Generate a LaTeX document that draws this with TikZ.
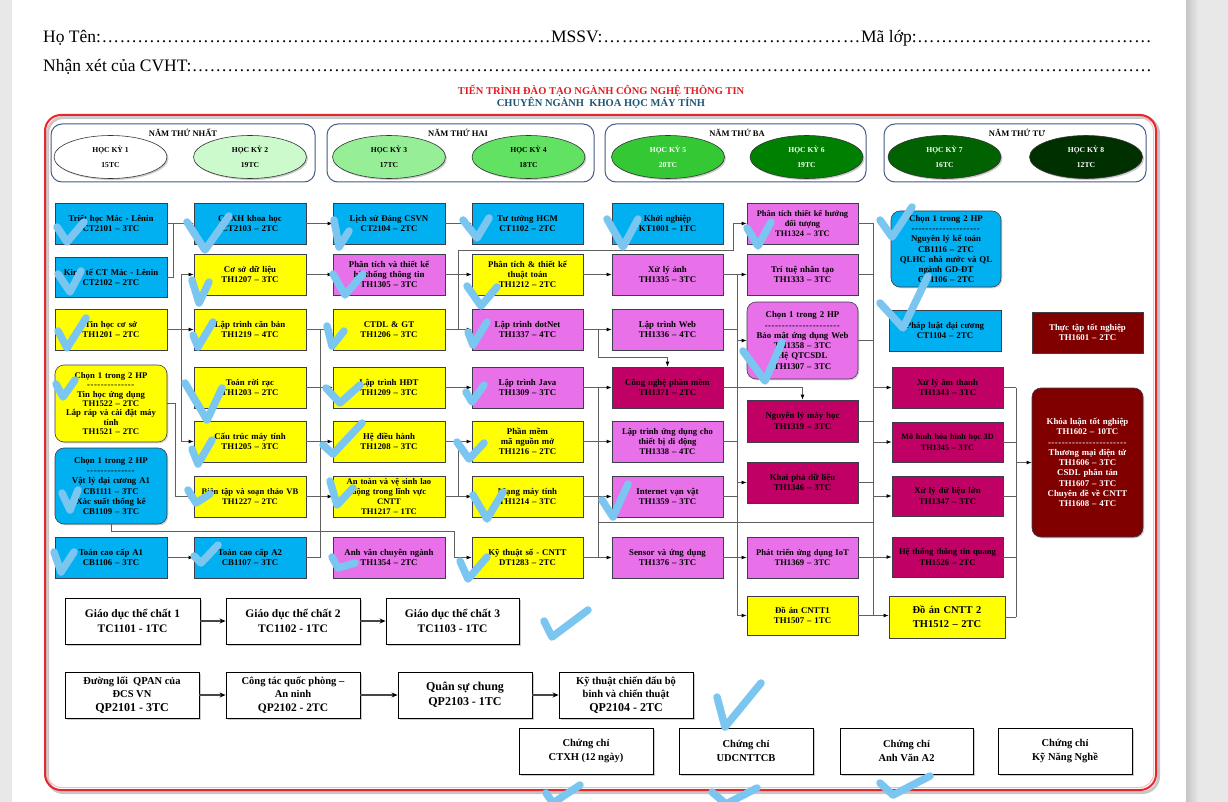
\documentclass[tikz,border=0pt]{standalone}
\usepackage{fontspec}
\setmainfont{Liberation Serif}
\usetikzlibrary{arrows.meta,shadows,shapes.geometric,calc}

% palette
\definecolor{cblue}{RGB}{0,176,240}
\definecolor{cyel}{RGB}{255,255,0}
\definecolor{cmag}{RGB}{232,112,232}
\definecolor{ccrim}{RGB}{192,0,100}
\definecolor{cdred}{RGB}{128,0,0}
\definecolor{cborder}{RGB}{60,60,75}
\definecolor{cline}{RGB}{95,95,95}
\definecolor{ctick}{RGB}{122,198,240}
\definecolor{cyear}{RGB}{70,92,135}
\definecolor{ctitle}{RGB}{225,30,35}
\definecolor{csub}{RGB}{30,85,115}
\definecolor{cframe}{RGB}{228,40,45}
\definecolor{pagegray}{RGB}{232,232,232}
\definecolor{hkone}{RGB}{255,255,255}
\definecolor{hktwo}{RGB}{204,250,204}
\definecolor{hkthree}{RGB}{150,238,150}
\definecolor{hkfour}{RGB}{98,226,98}
\definecolor{hkfive}{RGB}{52,200,52}
\definecolor{hksix}{RGB}{0,128,0}
\definecolor{hkseven}{RGB}{0,98,0}
\definecolor{hkeight}{RGB}{0,48,0}

% course box: name, x1, y1, x2, y2, style, text
\newcommand\crs[7]{%
  \pgfmathsetmacro\cw{#4-#2}\pgfmathsetmacro\ch{#5-#3}\pgfmathsetmacro\tw{#4-#2-4}%
  \node[#6, minimum width=\cw pt, minimum height=\ch pt, text width=\tw pt] (#1) at ({(#2+#4)/2},{(#3+#5)/2}) {#7};}
\newcommand\dotrun{\xleaders\hbox{…}\hfill}
\newcommand\hy[1]{\foreach\i in {1,...,#1}{-\kern0.5pt}}

\tikzset{
  cbox/.style={draw=cborder, line width=0.6pt, align=center, inner xsep=2pt, inner ysep=0pt,
    font=\bfseries\fontsize{8.8}{10.3}\selectfont,
    drop shadow={shadow xshift=1.3pt, shadow yshift=-1.3pt, opacity=0.3}},
  bluebox/.style={cbox, fill=cblue},
  yelbox/.style={cbox, fill=cyel},
  magbox/.style={cbox, fill=cmag},
  crimbox/.style={cbox, fill=ccrim},
  redbox/.style={cbox, fill=cdred, text=white},
  choice/.style={rounded corners=9pt},
  conn/.style={draw=cline, line width=0.75pt},
  arr/.style={conn, -{Latex[length=5pt,width=3.8pt,color=black]}},
  plainbox/.style={draw=black, line width=0.9pt, fill=white, align=center, inner sep=1pt,
    font=\bfseries\fontsize{11.5}{14.3}\selectfont,
    drop shadow={shadow xshift=1.6pt, shadow yshift=-1.6pt, opacity=0.4}},
  parr/.style={draw=gray!55!black, line width=1.3pt, -{Stealth[length=6pt,width=5pt,color=black]}},
  yearbox/.style={draw=cyear, line width=1pt, rounded corners=11pt, fill=white},
  yearlbl/.style={font=\bfseries\fontsize{8.5}{10}\selectfont, inner sep=0.5pt},
  hk/.style={ellipse, draw=gray!40!black, line width=0.6pt, minimum width=113pt, minimum height=43pt,
    align=center, inner sep=0pt, font=\bfseries\fontsize{7.6}{15}\selectfont,
    drop shadow={shadow xshift=1.5pt, shadow yshift=-1.5pt, opacity=0.4}},
  checkstroke/.style={draw=ctick, line width=7.5pt, line cap=round, line join=round},
}

\begin{document}
\begin{tikzpicture}[x=1pt,y=-1pt]
\useasboundingbox (0,0) rectangle (1228,802);
\clip (0,0) rectangle (1228,802);

% sheet
\fill[pagegray] (0,0) rectangle (1228,802);
\fill[white] (12,0) rectangle (1186,802);
\shade[left color=gray!45, right color=pagegray] (1186,0) rectangle (1198,802);

% form header
\node[anchor=base west, inner sep=0, font=\fontsize{17.5}{20}\selectfont] (hoten) at (43,43)
  {\makebox[508pt][l]{Họ Tên:\dotrun}\makebox[310pt][l]{MSSV:\dotrun}\makebox[291pt][l]{Mã lớp:\dotrun}};
\node[anchor=base west, inner sep=0, font=\fontsize{17.5}{20}\selectfont] (nhanxet) at (43,72)
  {\makebox[1109pt][l]{Nhận xét của CVHT:\dotrun}};
\node[font=\bfseries\fontsize{10.5}{12}\selectfont, text=ctitle, inner sep=0] (title) at (601,91)
  {TIẾN TRÌNH ĐÀO TẠO NGÀNH CÔNG NGHỆ THÔNG TIN};
\node[font=\bfseries\fontsize{10.5}{12}\selectfont, text=csub, inner sep=0] (subtitle) at (601,103)
  {CHUYÊN NGÀNH \ KHOA HỌC MÁY TÍNH};

% outer frame
\draw[gray!45, line width=3pt, rounded corners=16pt] (47.5,117.5) rectangle (1158.5,792.5);
\draw[cframe, line width=2pt, rounded corners=16pt] (45,115) rectangle (1156,790);
\draw[cframe!30, line width=1pt, rounded corners=14pt] (47.5,117.5) rectangle (1153.5,787.5);

% years and semesters
\node[yearbox, minimum width=264pt, minimum height=58pt] (y1) at (183,153) {};
\node[yearbox, minimum width=267pt, minimum height=58pt] (y2) at (460.5,153) {};
\node[yearbox, minimum width=261pt, minimum height=58pt] (y3) at (735.5,153) {};
\node[yearbox, minimum width=262pt, minimum height=58pt] (y4) at (1015,153) {};
\node[yearlbl] (y1l) at (183,133) {NĂM THỨ NHẤT};
\node[yearlbl] (y2l) at (458,133) {NĂM THỨ HAI};
\node[yearlbl] (y3l) at (737,133) {NĂM THỨ BA};
\node[yearlbl] (y4l) at (1017,133) {NĂM THỨ TƯ};
\node[hk, fill=hkone] (hk1) at (110.5,157) {HỌC KỲ 1\\15TC};
\node[hk, fill=hktwo] (hk2) at (250,157) {HỌC KỲ 2\\19TC};
\node[hk, fill=hkthree] (hk3) at (389,157) {HỌC KỲ 3\\17TC};
\node[hk, fill=hkfour] (hk4) at (528.5,157) {HỌC KỲ 4\\18TC};
\node[hk, fill=hkfive, text=white] (hk5) at (668,157) {HỌC KỲ 5\\20TC};
\node[hk, fill=hksix, text=white] (hk6) at (806.5,157) {HỌC KỲ 6\\19TC};
\node[hk, fill=hkseven, text=white] (hk7) at (944.5,157) {HỌC KỲ 7\\16TC};
\node[hk, fill=hkeight, text=white] (hk8) at (1086,157) {HỌC KỲ 8\\12TC};

% column 1
\crs{c1a}{55}{203}{167}{244}{bluebox}{Triết học Mác - Lênin\\CT2101 – 3TC}
\crs{c1b}{55}{257}{167}{297}{bluebox}{Kinh tế CT Mác - Lênin\\CT2102 – 2TC}
\crs{c1c}{55}{309}{167}{350}{yelbox}{Tin học cơ sở\\TH1201 – 2TC}
\crs{c1d}{55}{365}{167}{442}{yelbox, choice, font=\bfseries\fontsize{8.7}{9.4}\selectfont}{Chọn 1 trong 2 HP\\\hy{14}\\Tin học ứng dụng\\TH1522 – 2TC\\Lắp ráp và cài đặt máy\\tính\\TH1521 – 2TC}
\crs{c1e}{55}{448}{167}{524}{bluebox, choice}{Chọn 1 trong 2 HP\\\hy{14}\\Vật lý đại cương A1\\CB1111 – 3TC\\Xác suất thống kê\\CB1109 – 3TC}
\crs{c1f}{55}{537}{167}{578}{bluebox}{Toán cao cấp A1\\CB1106 – 3TC}

% column 2
\crs{c2a}{194}{203}{306}{244}{bluebox}{CNXH khoa học\\CT2103 – 2TC}
\crs{c2b}{194}{254}{306}{295}{yelbox}{Cơ sở dữ liệu\\TH1207 – 3TC}
\crs{c2c}{194}{309}{306}{350}{yelbox}{Lập trình căn bản\\TH1219 – 4TC}
\crs{c2d}{194}{367}{306}{408}{yelbox}{Toán rời rạc\\TH1203 – 2TC}
\crs{c2e}{194}{421}{306}{462}{yelbox}{Cấu trúc máy tính\\TH1205 – 3TC}
\crs{c2f}{194}{476}{306}{517}{yelbox, font=\bfseries\fontsize{8.6}{10.3}\selectfont}{Biên tập và soạn thảo VB\\TH1227 – 2TC}
\crs{c2g}{194}{537}{306}{578}{bluebox}{Toán cao cấp A2\\CB1107 – 3TC}

% column 3
\crs{c3a}{333}{203}{445}{244}{bluebox}{Lịch sử Đảng CSVN\\CT2104 – 2TC}
\crs{c3b}{333}{254}{445}{295}{magbox}{Phân tích và thiết kế\\hệ thống thông tin\\TH1305 – 3TC}
\crs{c3c}{333}{309}{445}{350}{yelbox}{CTDL \& GT\\TH1206 – 3TC}
\crs{c3d}{333}{367}{445}{408}{yelbox}{Lập trình HĐT\\TH1209 – 3TC}
\crs{c3e}{333}{421}{445}{462}{yelbox}{Hệ điều hành\\TH1208 – 3TC}
\crs{c3f}{333}{476}{445}{517}{yelbox, font=\bfseries\fontsize{8.6}{10}\selectfont}{An toàn và vệ sinh lao\\động trong lĩnh vực\\CNTT\\TH1217 – 1TC}
\crs{c3g}{333}{537}{445}{578}{magbox}{Anh văn chuyên ngành\\TH1354 – 2TC}

% column 4
\crs{c4a}{472}{203}{583}{244}{bluebox}{Tư tưởng HCM\\CT1102 – 2TC}
\crs{c4b}{472}{254}{583}{295}{yelbox}{Phân tích \& thiết kế\\thuật toán\\TH1212 – 2TC}
\crs{c4c}{472}{309}{583}{350}{magbox}{Lập trình dotNet\\TH1337 – 4TC}
\crs{c4d}{472}{367}{583}{408}{magbox}{Lập trình Java\\TH1309 – 3TC}
\crs{c4e}{472}{421}{583}{462}{yelbox}{Phần mềm\\mã nguồn mở\\TH1216 – 2TC}
\crs{c4f}{472}{476}{583}{517}{yelbox}{Mạng máy tính\\TH1214 – 3TC}
\crs{c4g}{472}{537}{583}{578}{yelbox}{Kỹ thuật số - CNTT\\DT1283 – 2TC}

% column 5
\crs{c5a}{612}{203}{723}{244}{bluebox}{Khởi nghiệp\\KT1001 – 1TC}
\crs{c5b}{612}{254}{723}{295}{magbox}{Xử lý ảnh\\TH1335 – 3TC}
\crs{c5c}{612}{309}{723}{350}{magbox}{Lập trình Web\\TH1336 – 4TC}
\crs{c5d}{612}{367}{723}{408}{crimbox}{Công nghệ phần mềm\\TH1371 – 2TC}
\crs{c5e}{612}{421}{723}{462}{magbox, font=\bfseries\fontsize{8.6}{10.3}\selectfont}{Lập trình ứng dụng cho\\thiết bị di động\\TH1338 – 4TC}
\crs{c5f}{612}{476}{723}{517}{magbox}{Internet vạn vật\\TH1359 – 3TC}
\crs{c5g}{612}{537}{723}{578}{magbox}{Sensor và ứng dụng\\TH1376 – 3TC}

% column 6
\crs{c6a}{747}{203}{858}{244}{magbox, font=\bfseries\fontsize{8.4}{10.3}\selectfont}{Phân tích thiết kế hướng\\đối tượng\\TH1324 – 3TC}
\crs{c6b}{747}{254}{858}{295}{magbox}{Trí tuệ nhân tạo\\TH1333 – 3TC}
\crs{c6c}{747}{302}{858}{379}{magbox, choice}{Chọn 1 trong 2 HP\\\hy{22}\\Bảo mật ứng dụng Web\\TH1358 – 3TC\\Hệ QTCSDL\\TH1307 – 3TC}
\crs{c6d}{747}{400}{858}{442}{crimbox}{Nguyên lý máy học\\TH1319 – 3TC}
\crs{c6e}{747}{462}{858}{503}{crimbox}{Khai phá dữ liệu\\TH1346 – 3TC}
\crs{c6f}{747}{537}{858}{578}{magbox, font=\bfseries\fontsize{8.6}{10.3}\selectfont}{Phát triển ứng dụng IoT\\TH1369 – 3TC}
\crs{c6g}{747}{596}{858}{635}{yelbox}{Đồ án CNTT1\\TH1507 – 1TC}

% column 7
\crs{c7a}{891}{211}{1001}{287}{bluebox, choice}{Chọn 1 trong 2 HP\\\hy{20}\\Nguyên lý kế toán\\CB1116 – 2TC\\QLHC nhà nước và QL\\ngành GD-ĐT\\CB1106 – 2TC}
\crs{c7b}{889}{310}{1001}{351}{bluebox}{Pháp luật đại cương\\CT1104 – 2TC}
\crs{c7c}{892}{367}{1003}{408}{crimbox}{Xử lý âm thanh\\TH1343 – 3TC}
\crs{c7d}{892}{422}{1003}{462}{crimbox, font=\bfseries\fontsize{8.2}{10.3}\selectfont}{Mô hình hóa hình học 3D\\TH1345 – 3TC}
\crs{c7e}{892}{476}{1003}{516}{crimbox}{Xử lý dữ liệu lớn\\TH1347 – 3TC}
\crs{c7f}{892}{537}{1003}{577}{crimbox, font=\bfseries\fontsize{8.6}{10.3}\selectfont}{Hệ thống thông tin quang\\TH1526 – 2TC}
\crs{c7g}{889}{596}{1005}{638}{yelbox, font=\bfseries\fontsize{10.5}{14}\selectfont}{Đồ án CNTT 2\\TH1512 – 2TC}

% column 8
\crs{c8a}{1032}{312}{1143}{353}{redbox}{Thực tập tốt nghiệp\\TH1601 – 2TC}
\crs{c8b}{1032}{388}{1143}{537}{redbox, choice}{Khóa luận tốt nghiệp\\TH1602 – 10TC\\\hy{23}\\Thương mại điện tử\\TH1606 – 3TC\\CSDL phân tán\\TH1607 – 3TC\\Chuyên đề về CNTT\\TH1608 – 4TC}

% bus positions
\coordinate (b1) at (181,0);
\coordinate (b2) at (320,0);
\coordinate (b3) at (458,0);
\coordinate (b4) at (598,0);
\coordinate (b5) at (737,0);
\coordinate (b6) at (873,0);
\coordinate (b7) at (1016,0);
\coordinate (k1) at (733,250);
\coordinate (k2) at (667.5,357);
\coordinate (k3) at (0,522);

% semester 1 -> 2
\draw[arr] (c1a.east) -- (c2a.west);
\draw[conn] (c1b.east) -| ($(c1a.east)+(6,0)$);
\draw[arr] (c1c.east) -- (c2c.west);
\draw[conn] (b1 |- c2b.west) -- (b1 |- c2e.west);
\draw[arr] (b1 |- c2b.west) -- (c2b.west);
\draw[arr] (b1 |- c2e.west) -- (c2e.west);
\draw[arr] (c1d.east) -- ++(8,0) |- (c2f.west);
\draw[arr] (c1e.south) -- ++(0,7) -| ($(c4g.west)+(-17,0)$) -- (c4g.west);
\draw[arr] (c1f.east) -- (c2g.west);

% semester 2 -> 3
\draw[arr] (c2a.east) -- (c3a.west);
\draw[arr] (c2b.east) -- (c3b.west);
\draw[conn] (b2 |- c2c.east) -- (b2 |- c2g.east);
\foreach \n in {c2c,c2e,c2f,c2g} \draw[conn] (\n.east) -- (\n.east -| b2);
\foreach \n in {c3c,c3e,c3f} \draw[arr] (\n.west -| b2) -- (\n.west);
\draw[arr] (c2d.east) -- (c3d.west);

% semester 3 -> 4
\foreach \a/\b in {c3a/c4a,c3b/c4b,c3c/c4c,c3d/c4d,c3e/c4e,c3f/c4f} \draw[arr] (\a.east) -- (\b.west);
\draw[conn] (b3 |- c3e.east) -- (b3 |- c3f.east);
\draw[arr] (c3c.east -| b3) |- (k1) |- (c6a.west);

% semester 4 -> 5
\foreach \a/\b in {c4b/c5b,c4c/c5c,c4d/c5d,c4e/c5e,c4f/c5f,c4g/c5g} \draw[arr] (\a.east) -- (\b.west);
\draw[conn] (b4 |- c4d.east) -- (b4 |- c4g.east);
\draw[arr] (c4c.east -| b4) |- (k2) -- (c5d.north);
\draw[conn] (b4 |- k3) -- (b6 |- k3);

% semester 5 -> 6
\draw[conn] (b5 |- c5b.east) -- (b5 |- c6g.west);
\foreach \n in {c5c,c5e,c5f} \draw[conn] (\n.east) -- (\n.east -| b5);
\draw[arr] (c5b.east) -- (c6b.west);
\draw[arr] (c5g.east) -- (c6f.west);
\foreach \n in {c6c,c6e,c6g} \draw[arr] (\n.west -| b5) -- (\n.west);
\draw[arr] (c5d.east) -| (c6d.north);

% semester 6 -> 7
\draw[conn] (b6 |- c6a.east) -- (b6 |- c6g.east);
\foreach \n in {c6a,c6b,c6c,c6d,c6e,c6f} \draw[conn] (\n.east) -- (\n.east -| b6);
\foreach \n in {c7c,c7d,c7e,c7f} \draw[arr] (\n.west -| b6) -- (\n.west);
\draw[arr] (c6g.east) -- (c6g.east -| c7g.west);

% semester 7 -> 8
\draw[conn] (b7 |- c7c.east) -- (b7 |- c7g.east);
\foreach \n in {c7c,c7d,c7e,c7f,c7g} \draw[conn] (\n.east) -- (\n.east -| b7);
\draw[arr] (b7 |- c8b.west) -- (c8b.west);

% physical education
\node[plainbox, minimum width=135pt, minimum height=46pt] (g1) at (132.5,621) {Giáo dục thể chất 1\\TC1101 - 1TC};
\node[plainbox, minimum width=134pt, minimum height=46pt] (g2) at (293,621) {Giáo dục thể chất 2\\TC1102 - 1TC};
\node[plainbox, minimum width=133pt, minimum height=46pt] (g3) at (452.5,621) {Giáo dục thể chất 3\\TC1103 - 1TC};
\draw[parr] (g1) -- (g2);
\draw[parr] (g2) -- (g3);

% defence education
\node[plainbox, minimum width=134pt, minimum height=46pt, font=\bfseries\fontsize{10.5}{12.8}\selectfont] (q1) at (132,695)
  {Đường lối \ QPAN của\\ĐCS VN\\[1pt]{\fontsize{12}{14}\selectfont QP2101 - 3TC}};
\node[plainbox, minimum width=134pt, minimum height=46pt, font=\bfseries\fontsize{10.5}{12.8}\selectfont] (q2) at (293,695)
  {Công tác quốc phòng –\\An ninh\\[1pt]{\fontsize{11.5}{14}\selectfont QP2102 - 2TC}};
\node[plainbox, minimum width=134pt, minimum height=46pt, font=\bfseries\fontsize{12}{15}\selectfont] (q3) at (465,695)
  {Quân sự chung\\QP2103 - 1TC};
\node[plainbox, minimum width=134pt, minimum height=46pt, font=\bfseries\fontsize{10.5}{12.8}\selectfont] (q4) at (626,695)
  {Kỹ thuật chiến đấu bộ\\binh và chiến thuật\\[1pt]{\fontsize{12}{14}\selectfont QP2104 - 2TC}};
\draw[parr] (q1) -- (q2);
\draw[parr] (q2) -- (q3);
\draw[parr] (q3) -- (q4);

% certificates
\node[plainbox, minimum width=134pt, minimum height=46pt, font=\bfseries\fontsize{10.5}{14}\selectfont] (cc1) at (586,751) {Chứng chỉ\\CTXH (12 ngày)};
\node[plainbox, minimum width=134pt, minimum height=46pt, font=\bfseries\fontsize{10.5}{14}\selectfont] (cc2) at (746,751) {Chứng chỉ\\UDCNTTCB};
\node[plainbox, minimum width=133pt, minimum height=46pt, font=\bfseries\fontsize{10.5}{14}\selectfont] (cc3) at (906.5,751) {Chứng chỉ\\Anh Văn A2};
\node[plainbox, minimum width=134pt, minimum height=46pt, font=\bfseries\fontsize{10.5}{14}\selectfont] (cc4) at (1065,751) {Chứng chỉ\\Kỹ Năng Nghề};

% pen check marks
\begin{scope}[checkstroke]
\draw (57,227) -- (67,242) -- (84,222);
\draw (187,222) -- (205,250) -- (229,216);
\draw (58,274) -- (70,292) -- (81,271);
\draw (192,280) -- (199,303) -- (209,282);
\draw (58,331) -- (67,348) -- (86,318);
\draw (193,335) -- (198,347) -- (213,322);
\draw (56,384) -- (63,397) -- (75,380);
\draw (185,383) -- (207,420) -- (222,388);
\draw (192,449) -- (198,464) -- (212,440);
\draw (62,493) -- (70,510) -- (78,490);
\draw (188,490) -- (196,503) -- (210,494);
\draw (54,552) -- (61,572) -- (74,552);
\draw (194,556) -- (201,563) -- (218,545);
\draw (334,220) -- (339,247) -- (349,231);
\draw (463,220) -- (477,238) -- (489,218);
\draw (333,274) -- (345,295) -- (363,274);
\draw (467,286) -- (481,306) -- (497,287);
\draw (327,326) -- (332,346) -- (344,331);
\draw (468,332) -- (473,345) -- (487,322);
\draw (326,388) -- (340,403) -- (360,385);
\draw (466,392) -- (472,402) -- (484,385);
\draw (323,445) -- (333,454) -- (362,423);
\draw (457,442) -- (469,459) -- (484,443);
\draw (330,481) -- (337,505) -- (353,488);
\draw (473,495) -- (487,519) -- (503,492);
\draw (332,557) -- (338,568) -- (355,563);
\draw (460,561) -- (468,579) -- (487,557);
\draw (607,219) -- (623,247) -- (638,219);
\draw (747,228) -- (758,246) -- (771,222);
\draw (743,351) -- (765,381) -- (782,342);
\draw (602,500) -- (613,517) -- (628,484);
\draw (880,220) -- (892,237) -- (912,207);
\draw (880,303) -- (903,328) -- (928,276);
\draw (544,621) -- (552,637) -- (588,610);
\draw (717,697) -- (725,727) -- (761,683);
\draw (546,793) -- (553,803) -- (580,785);
\draw (712,792) -- (726,804) -- (757,788);
\draw (880,783) -- (893,795) -- (930,776);
\end{scope}
\end{tikzpicture}
\end{document}
